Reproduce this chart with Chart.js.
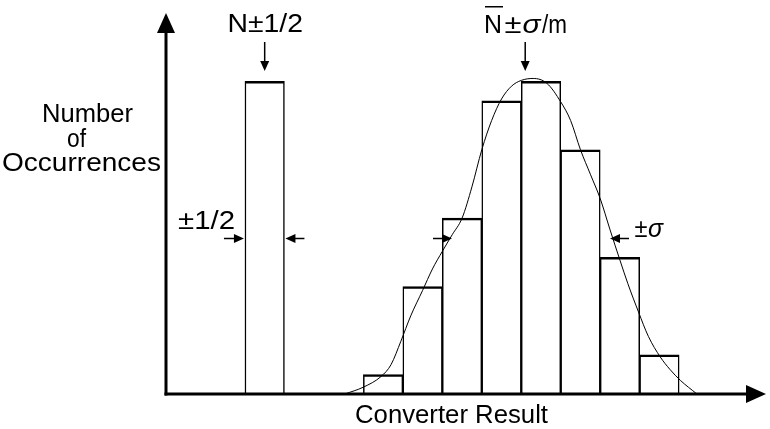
<!DOCTYPE html>
<html>
<head>
    <meta charset="UTF-8">
    <title>Converter Result Histogram</title>
    <script src="https://cdn.jsdelivr.net/npm/chart.js"></script>
    <style>
        body {
            margin: 0;
            overflow: hidden;
            background-color: #fff;
        }

        .chart-box {
            width: 770px;
            height: 429px;
        }
    </style>
</head>
<body>
    <div class="chart-box">
        <canvas id="histChart"></canvas>
    </div>

    <script>
        // bins (centre of each bin, in code widths) and how many times each came up
        var binCenters = [2.5, 5.5, 6.5, 7.5, 8.5, 9.5, 10.5, 11.5, 12.5];
        var binCounts = [32, 2, 11, 18, 30, 32, 25, 14, 4];

        // the smooth curve drawn over the noisy histogram
        var curveX = [4.53, 5.0, 5.45, 5.7, 5.95, 6.2, 6.5, 6.75, 7.0, 7.25, 7.5, 7.75, 8.0, 8.25, 8.5,
                      8.75, 9.0, 9.3, 9.65, 10.0, 10.25, 10.5, 10.75, 11.0, 11.25, 11.5, 11.7, 11.97,
                      12.22, 12.52, 12.77, 13.03, 13.45];
        var curveY = [0, 0.7, 1.8, 3.0, 5.4, 8.0, 10.6, 12.8, 14.6, 16.3, 18.0, 21.2, 25.0, 28.0, 30.2,
                      31.5, 32.1, 32.3, 31.8, 29.9, 28.0, 25.0, 22.5, 20.0, 16.8, 13.7, 11.3, 8.4,
                      5.9, 3.8, 2.5, 1.4, 0];

        var FONT = '"Liberation Sans", Arial, sans-serif';
        var SIZE = '25px ';

        var histData = binCenters.map(function(x, i) { return { x: x, y: binCounts[i] }; });
        var curveData = curveX.map(function(x, i) { return { x: x, y: curveY[i] }; });

        // draw text squeezed/stretched to a given width (the original lettering is wide)
        function fitText(ctx, text, left, baseline, width, font) {
            ctx.font = font;
            var w = ctx.measureText(text).width;
            ctx.save();
            ctx.translate(left, baseline);
            ctx.scale(width / w, 1);
            ctx.fillText(text, 0, 0);
            ctx.restore();
        }

        function arrow(ctx, x1, y1, x2, y2, len, half, lw) {
            var a = Math.atan2(y2 - y1, x2 - x1);
            ctx.lineWidth = lw;
            ctx.beginPath();
            ctx.moveTo(x1, y1);
            ctx.lineTo(x2 - Math.cos(a) * len * 0.8, y2 - Math.sin(a) * len * 0.8);
            ctx.stroke();
            ctx.beginPath();
            ctx.moveTo(x2, y2);
            ctx.lineTo(x2 - Math.cos(a) * len - Math.sin(a) * half, y2 - Math.sin(a) * len + Math.cos(a) * half);
            ctx.lineTo(x2 - Math.cos(a) * len + Math.sin(a) * half, y2 - Math.sin(a) * len - Math.cos(a) * half);
            ctx.closePath();
            ctx.fill();
        }

        var axesAndNotes = {
            id: 'axesAndNotes',
            afterDraw: function(chart) {
                var ctx = chart.ctx;
                var area = chart.chartArea;
                var xs = chart.scales.x;
                var ys = chart.scales.y;
                var x0 = area.left, y0 = ys.getPixelForValue(0);

                ctx.save();
                ctx.fillStyle = '#000';
                ctx.strokeStyle = '#000';
                ctx.lineCap = 'butt';

                // axes with arrow heads
                arrow(ctx, x0, y0 + 1.5, x0, area.top, 20, 9, 3);
                arrow(ctx, x0 - 1.5, y0, area.right, y0, 20, 9, 3);

                // axis titles
                fitText(ctx, 'Number', 42, 122, 91, SIZE + FONT);
                fitText(ctx, 'of', 67, 147, 19, SIZE + FONT);
                fitText(ctx, 'Occurrences', 2, 171, 159, SIZE + FONT);
                fitText(ctx, 'Converter Result', 355, 423, 193, SIZE + FONT);

                // single code: N +- 1/2
                fitText(ctx, 'N\u00B11/2', 227.5, 32, 75.5, SIZE + FONT);
                var xs1 = xs.getPixelForValue(binCenters[0]);
                arrow(ctx, xs1, 42, xs1, 71, 10, 4.5, 1.5);
                fitText(ctx, '\u00B11/2', 178, 229, 57, SIZE + FONT);
                var bl = xs.getPixelForValue(binCenters[0] - 0.5);
                var br = xs.getPixelForValue(binCenters[0] + 0.5);
                arrow(ctx, bl - 21, 238.5, bl - 1, 238.5, 10, 4.5, 1.5);
                arrow(ctx, br + 20, 238.5, br + 1, 238.5, 10, 4.5, 1.5);

                // noisy codes: mean +- sigma/m
                fitText(ctx, 'N', 484, 33, 18, SIZE + FONT);
                ctx.fillRect(485, 6, 18, 1.5);
                fitText(ctx, '\u00B1', 504.5, 33, 17, SIZE + FONT);
                fitText(ctx, '\u03C3', 522.5, 33, 18, 'italic ' + SIZE + FONT);
                fitText(ctx, '/m', 542, 33, 25, SIZE + FONT);
                var xm = xs.getPixelForValue(9.1);
                arrow(ctx, xm, 42, xm, 71, 10, 4.5, 1.5);

                arrow(ctx, 433, 238.5, 452, 238.5, 10, 4.5, 1.5);
                arrow(ctx, 629, 238.5, 610, 238.5, 10, 4.5, 1.5);
                fitText(ctx, '\u00B1', 634.5, 237, 13, SIZE + FONT);
                fitText(ctx, '\u03C3', 648, 237, 15, 'italic ' + SIZE + FONT);

                ctx.restore();
            }
        };

        var ctx1 = document.getElementById('histChart').getContext('2d');
        var chart1 = new Chart(ctx1, {
            type: 'bar',
            data: {
                datasets: [{
                    type: 'line',
                    data: curveData,
                    borderColor: '#000',
                    borderWidth: 1,
                    pointRadius: 0,
                    cubicInterpolationMode: 'monotone',
                    fill: false,
                    order: 0
                }, {
                    type: 'bar',
                    data: histData,
                    backgroundColor: '#fff',
                    borderColor: '#000',
                    borderWidth: { top: 2.5, left: 1.5, right: 1.5, bottom: 0 },
                    barPercentage: 1,
                    categoryPercentage: 1,
                    order: 1
                }]
            },
            options: {
                responsive: true,
                maintainAspectRatio: false,
                animation: false,
                layout: {
                    padding: { left: 166, right: 4, top: 13, bottom: 35 }
                },
                plugins: {
                    legend: { display: false },
                    tooltip: { enabled: false }
                },
                scales: {
                    x: { type: 'linear', min: 0, max: 15.2, offset: false, display: false },
                    y: { min: 0, max: 39, display: false }
                }
            },
            plugins: [axesAndNotes]
        });
    </script>
</body>
</html>
